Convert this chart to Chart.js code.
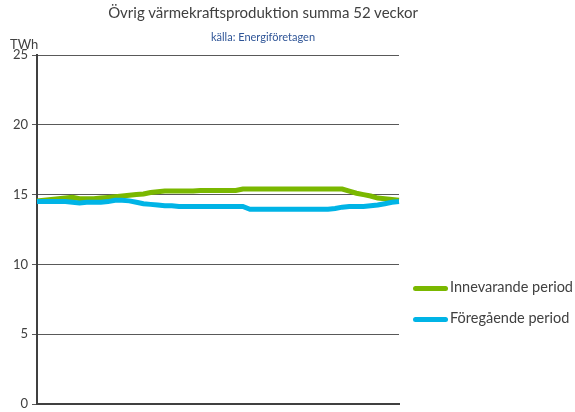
<!DOCTYPE html>
<html>
<head>
<meta charset="utf-8">
<script src="https://cdn.jsdelivr.net/npm/chart.js@4"></script>
<style>
    body { margin: 0; background: #fff; font-family: Lato, "Open Sans", sans-serif; }
    #wrap { position: relative; width: 575px; height: 412px; }
    #grafico { position: absolute; left: 0; top: 0; }
    .txt { position: absolute; white-space: nowrap; color: #404040; }
    #titulo { left: 0; width: 526px; top: 3px; text-align: center; font-size: 15px; }
    #fuente { left: 0; width: 526px; top: 30px; text-align: center; font-size: 11px; color: #2F5597; }
    #unidad { left: 10px; top: 36px; font-size: 13px; }
    .leyenda { position: absolute; left: 413px; font-size: 14.5px; color: #404040; }
    .leyenda span { display: inline-block; width: 35px; height: 5px; border-radius: 3px; vertical-align: middle; margin-right: 2px; }
</style>
</head>
<body>
<div id="wrap">
    <canvas id="grafico" width="575" height="412"></canvas>
    <div class="txt" id="titulo">Övrig värmekraftsproduktion summa 52 veckor</div>
    <div class="txt" id="fuente">källa: Energiföretagen</div>
    <div class="txt" id="unidad">TWh</div>
    <div class="leyenda" style="top:278px"><span style="background:#7AB800"></span>Innevarande period</div>
    <div class="leyenda" style="top:309px"><span style="background:#00B4E6"></span>Föregående period</div>
</div>
<script>
// Veckor 1..52 (inga etiketter visas på x-axeln)
const veckor = Array.from({ length: 52 }, (_, i) => 'v' + (i + 1));

// Innevarande period (TWh)
const innevarande = [
    14.55, 14.6, 14.65, 14.7, 14.75, 14.8, 14.7, 14.7, 14.7, 14.75,
    14.8, 14.85, 14.9, 14.95, 15.0, 15.05, 15.15, 15.2, 15.25, 15.25,
    15.25, 15.25, 15.25, 15.3, 15.3, 15.3, 15.3, 15.3, 15.3, 15.4,
    15.4, 15.4, 15.4, 15.4, 15.4, 15.4, 15.4, 15.4, 15.4, 15.4,
    15.4, 15.4, 15.4, 15.4, 15.25, 15.1, 15.0, 14.9, 14.75, 14.7,
    14.65, 14.6
];

// Föregående period (TWh)
const foregaende = [
    14.5, 14.5, 14.5, 14.5, 14.5, 14.45, 14.4, 14.45, 14.45, 14.45,
    14.5, 14.6, 14.6, 14.55, 14.45, 14.35, 14.3, 14.25, 14.2, 14.2,
    14.15, 14.15, 14.15, 14.15, 14.15, 14.15, 14.15, 14.15, 14.15, 14.15,
    13.95, 13.95, 13.95, 13.95, 13.95, 13.95, 13.95, 13.95, 13.95, 13.95,
    13.95, 13.95, 14.0, 14.1, 14.15, 14.15, 14.15, 14.2, 14.25, 14.35,
    14.45, 14.5
];

const yTicks = [0, 5, 10, 15, 20, 25];

const ctx = document.getElementById('grafico');

new Chart(ctx, {
    type: 'line',
    data: {
        labels: veckor,
        datasets: [{
            label: 'Föregående period',
            data: foregaende,
            borderColor: '#00B4E6',
            borderWidth: 5,
            pointRadius: 0,
            tension: 0,
            order: 0
        }, {
            label: 'Innevarande period',
            data: innevarande,
            borderColor: '#7AB800',
            borderWidth: 5,
            pointRadius: 0,
            tension: 0,
            order: 1
        }]
    },
    options: {
        responsive: false,
        animation: false,
        layout: {
            padding: { left: 0, top: 55, right: 176, bottom: 8 }
        },
        plugins: {
            legend: { display: false },
            tooltip: { enabled: false }
        },
        scales: {
            x: {
                offset: false,
                grid: { display: false },
                ticks: { display: false },
                border: { display: true, color: '#404040', width: 2 },
                afterFit: function(scale) {
                    scale.height = 0;
                    scale.paddingLeft = 0;
                    scale.paddingRight = 0;
                }
            },
            y: {
                min: 0,
                max: 25,
                afterBuildTicks: function(scale) {
                    scale.ticks = yTicks.map(v => ({ value: v }));
                },
                afterFit: function(scale) {
                    scale.width = 37;
                    scale.paddingTop = 0;
                    scale.paddingBottom = 0;
                },
                grid: {
                    color: '#595959',
                    lineWidth: 1,
                    tickLength: 5,
                    drawTicks: true
                },
                border: { display: true, color: '#404040', width: 2 },
                ticks: {
                    color: '#404040',
                    padding: 4,
                    font: { family: 'Lato', size: 13 }
                }
            }
        }
    }
});
</script>
</body>
</html>
